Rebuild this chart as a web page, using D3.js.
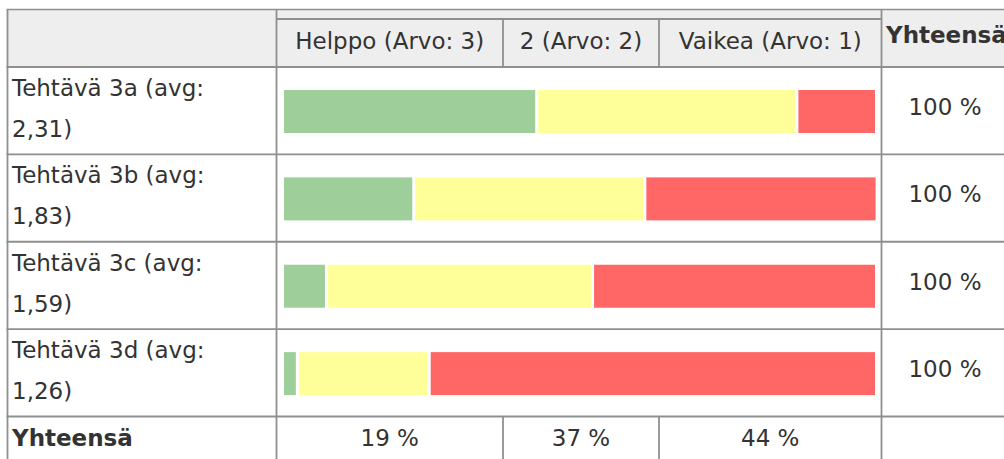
<!DOCTYPE html>
<html>
<head>
<meta charset="utf-8">
<script src="https://cdn.jsdelivr.net/npm/d3@7"></script>
<style>
  html, body { margin: 0; padding: 0; background: #ffffff; overflow: hidden; }
  svg { display: block; }
  text { font-family: "DejaVu Sans", Verdana, sans-serif; fill: #333333; }
</style>
</head>
<body>
<svg id="chart" width="1004" height="459"></svg>
<script>
// ---- data ----
const tasks = ["Tehtävä 3a", "Tehtävä 3b", "Tehtävä 3c", "Tehtävä 3d"];
const averages = ["2,31", "1,83", "1,59", "1,26"];
const categories = ["Helppo (Arvo: 3)", "2 (Arvo: 2)", "Vaikea (Arvo: 1)"];
const helppo = [42.8, 22.1, 7.4, 2.5];
const keski = [43.8, 38.9, 44.8, 22.2];
const vaikea = [13.4, 39.1, 47.8, 75.3];
const rowTotals = ["100 %", "100 %", "100 %", "100 %"];
const columnTotals = ["19 %", "37 %", "44 %"];
const totalLabel = "Yhteensä";
const colors = ["#9ecf9b", "#ffff99", "#ff6666"];

// ---- layout ----
const W = 1004, H = 459;
const svg = d3.select("#chart");
const lineColor = "#8f8f8f";
const headerBg = "#eeeeee";
const xLeft = 7.5, labelRight = 276.5, totalLeft = 881.5, xRight = W + 10;
const yTop = 9.5, subTop = 19, headTop = 67, bodyBottom = 416.5;
const colEdges = [labelRight, 503, 659, totalLeft];

const table = tasks.map((t, i) => ({ task: t, avg: averages[i], h: helppo[i], k: keski[i], v: vaikea[i], total: rowTotals[i] }));

const y = d3.scaleBand().domain(tasks).range([headTop, bodyBottom]).padding(0);
const x = d3.scaleLinear().domain([0, 100]).range([284, 878]);
const colX = d3.scaleOrdinal().domain(categories).range(categories.map((c, i) => (colEdges[i] + colEdges[i + 1]) / 2));
const color = d3.scaleOrdinal().domain(["h", "k", "v"]).range(colors);

// header backgrounds
svg.append("rect").attr("x", xLeft).attr("y", yTop).attr("width", xRight - xLeft).attr("height", headTop - yTop).attr("fill", headerBg);

// bars
const stack = d3.stack().keys(["h", "k", "v"]);
const series = stack(table);
const gap = 3;
svg.append("g").selectAll("g").data(series).join("g")
  .attr("fill", d => color(d.key))
  .selectAll("rect").data(d => d).join("rect")
  .attr("x", d => x(d[0]))
  .attr("y", d => y(d.data.task) + 23)
  .attr("width", d => Math.max(0, x(d[1]) - x(d[0]) - gap))
  .attr("height", 43);

// grid lines
const g = svg.append("g").attr("stroke", lineColor).attr("stroke-width", 1.8).attr("fill", "none");
g.append("line").attr("x1", xLeft - 1).attr("x2", xRight).attr("y1", yTop).attr("y2", yTop).attr("stroke-width", 1.3);
g.append("line").attr("x1", labelRight).attr("x2", totalLeft).attr("y1", subTop).attr("y2", subTop);
const hLines = [headTop].concat(tasks.map(t => y(t) + y.bandwidth()));
g.selectAll("line.h").data(hLines).join("line").attr("class", "h")
  .attr("x1", xLeft - 1).attr("x2", xRight).attr("y1", d => d).attr("y2", d => d);
[xLeft, labelRight, totalLeft].forEach(xx => {
  g.append("line").attr("x1", xx).attr("x2", xx).attr("y1", yTop).attr("y2", H + 5);
});
[colEdges[1], colEdges[2]].forEach(xx => {
  g.append("line").attr("x1", xx).attr("x2", xx).attr("y1", subTop).attr("y2", headTop);
  g.append("line").attr("x1", xx).attr("x2", xx).attr("y1", bodyBottom).attr("y2", H + 5);
});

const fs = 23;
// header texts
svg.append("g").selectAll("text").data(categories).join("text")
  .attr("x", d => colX(d)).attr("y", 49).attr("text-anchor", "middle")
  .attr("font-size", fs).text(d => d);
svg.append("text").attr("x", 886).attr("y", 43).attr("font-size", fs).attr("font-weight", "bold").text(totalLabel);

// row labels
const labels = svg.append("g").selectAll("text").data(table).join("text")
  .attr("font-size", fs);
labels.append("tspan").attr("x", 12).attr("y", d => y(d.task) + 29).text(d => d.task + " (avg:");
labels.append("tspan").attr("x", 12).attr("y", d => y(d.task) + 70).text(d => d.avg + ")");

// row totals
svg.append("g").selectAll("text").data(table).join("text")
  .attr("x", 945).attr("y", d => y(d.task) + 48).attr("text-anchor", "middle")
  .attr("font-size", fs).text(d => d.total);

// bottom totals row
svg.append("text").attr("x", 12).attr("y", bodyBottom + 29).attr("font-size", fs).attr("font-weight", "bold").text(totalLabel);
svg.append("g").selectAll("text").data(columnTotals).join("text")
  .attr("x", (d, i) => colX(categories[i])).attr("y", bodyBottom + 29).attr("text-anchor", "middle")
  .attr("font-size", fs).text(d => d);
</script>
</body>
</html>
